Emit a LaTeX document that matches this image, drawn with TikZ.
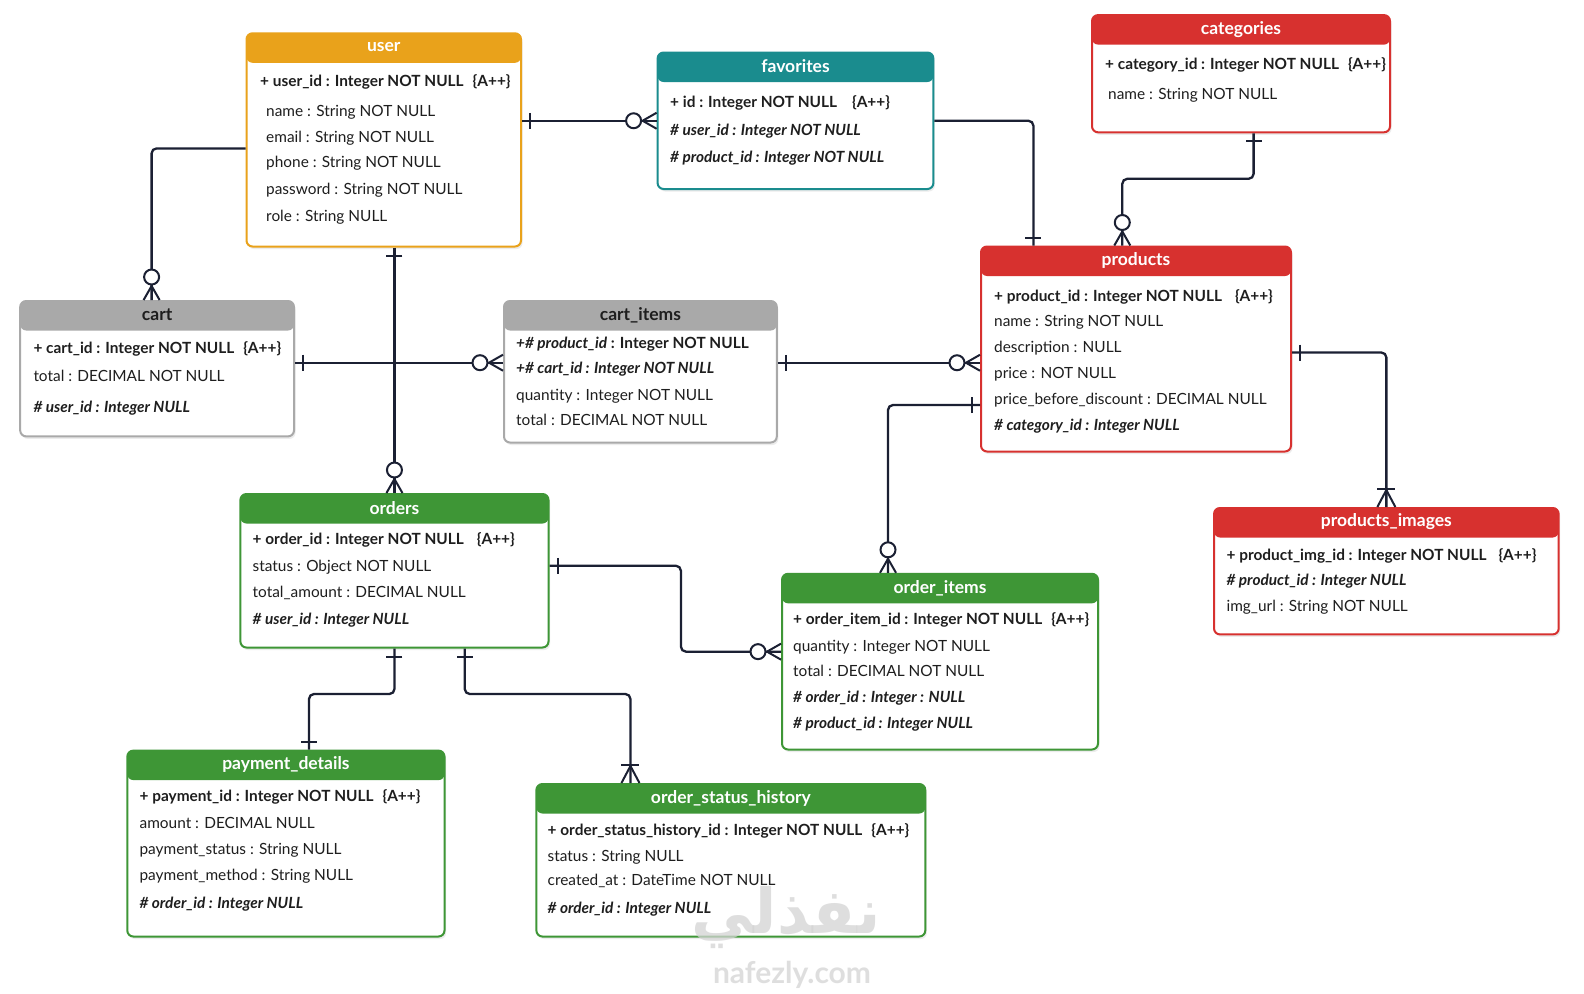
\documentclass[tikz,border=0pt]{standalone}
\usepackage{fontspec}
\setmainfont{Lato}
\newfontfamily\arabicfont[Script=Arabic]{DejaVu Sans}
\TeXXeTstate=1
\usetikzlibrary{shadows,calc}
\definecolor{cOrange}{HTML}{E9A21B}
\definecolor{cTeal}{HTML}{1A8C8E}
\definecolor{cRed}{HTML}{D7312F}
\definecolor{cGray}{HTML}{A9A9A9}
\definecolor{cGreen}{HTML}{3E9636}
\definecolor{cLine}{HTML}{1B2033}
\definecolor{cText}{HTML}{1E1E1E}
\definecolor{cWm}{HTML}{D4D4D4}
\newcommand\pk[1]{\textbf{#1}}
\newcommand\fk[1]{\textbf{\textit{#1}}}
\newcommand\apk{\hspace{9pt}\{A++\}}
\tikzset{
  ent/.style={draw=#1, fill=white, line width=2pt, rounded corners=6pt, inner sep=0pt, anchor=north west,
    drop shadow={opacity=0.15, shadow xshift=1.5pt, shadow yshift=-2.5pt},
    path picture={\fill[#1] ([yshift=5pt]path picture bounding box.north west) rectangle ([yshift=-29.5pt]path picture bounding box.north east);}},
  ttl/.style={text=white, font=\bfseries\fontsize{17.5}{20}\selectfont, inner sep=0pt},
  fld/.style={anchor=west, inner sep=0pt, text height=11pt, text depth=3pt, text=cText, font=\fontsize{15.4}{18}\selectfont},
  conn/.style={draw=cLine, line width=2.3pt, rounded corners=5pt},
  mk/.style={draw=cLine, line width=2pt},
  erOne/.pic={\draw[mk] (8,-8)--(8,8);},
  erZeroMany/.pic={\draw[mk] (0,8)--(14,0)--(0,-8); \draw[mk, fill=white] (23,0) circle (7.5pt);},
  erOneMany/.pic={\draw[mk] (0,9)--(17,0)--(0,-9); \draw[mk] (18,-9)--(18,9);},
  wm/.style={text=cWm, text opacity=0.75, inner sep=0pt}
}
\begin{document}
\begin{tikzpicture}[x=1pt,y=-1pt]
\useasboundingbox[fill=white] (0,0) rectangle (1584,993);

% ---------- entities ----------
\node[ent=cOrange, minimum width=274.5pt, minimum height=213.2pt] (user) at (245.5,32.3) {};
\node[ttl] (user-t) at ([yshift=-15pt]user.north) {user};
\node[fld] (user-1) at (260,82.8) {\pk{+ user\_id : Integer NOT NULL\apk}};
\node[fld] (user-2) at (266,112.1) {name : String NOT NULL};
\node[fld] (user-3) at (266,138.4) {email : String NOT NULL};
\node[fld] (user-4) at (266,163.7) {phone : String NOT NULL};
\node[fld] (user-5) at (266,190.9) {password : String NOT NULL};
\node[fld] (user-6) at (266,217.2) {role : String NULL};

\node[ent=cTeal, minimum width=275.8pt, minimum height=136.5pt] (fav) at (656.6,51.5) {};
\node[ttl] (fav-t) at ([yshift=-15pt]fav.north) {favorites};
\node[fld] (fav-1) at (670,103) {\pk{+ id : Integer NOT NULL\hspace{6pt}\apk}};
\node[fld] (fav-2) at (670,131.3) {\fk{\# user\_id : Integer NOT NULL}};
\node[fld] (fav-3) at (670,158.6) {\fk{\# product\_id : Integer NOT NULL}};

\node[ent=cRed, minimum width=298pt, minimum height=117.2pt] (cat) at (1091,14.1) {};
\node[ttl] (cat-t) at ([yshift=-15pt]cat.north) {categories};
\node[fld] (cat-1) at (1105,65.7) {\pk{+ category\_id : Integer NOT NULL\apk}};
\node[fld] (cat-2) at (1108,95) {name : String NOT NULL};

\node[ent=cGray, minimum width=273.8pt, minimum height=135.4pt] (cart) at (19.2,300) {};
\node[ttl, text=cText] (cart-t) at ([yshift=-15pt]cart.north) {cart};
\node[fld] (cart-1) at (33.3,349.5) {\pk{+ cart\_id : Integer NOT NULL\apk}};
\node[fld] (cart-2) at (33.3,377.8) {total : DECIMAL NOT NULL};
\node[fld] (cart-3) at (33.3,408.1) {\fk{\# user\_id : Integer NULL}};

\node[ent=cGray, minimum width=272.8pt, minimum height=141.5pt] (citems) at (503,300) {};
\node[ttl, text=cText] (citems-t) at ([yshift=-15pt]citems.north) {cart\_items};
\node[fld] (citems-1) at (516,344.5) {\fk{+\# product\_id}\pk{ : Integer NOT NULL}};
\node[fld] (citems-2) at (516,369.7) {\fk{+\# cart\_id : Integer NOT NULL}};
\node[fld] (citems-3) at (516,396) {quantity : Integer NOT NULL};
\node[fld] (citems-4) at (516,421.3) {total : DECIMAL NOT NULL};

\node[ent=cRed, minimum width=310pt, minimum height=205pt] (products) at (980,245.5) {};
\node[ttl] (products-t) at ([yshift=-15pt]products.north) {products};
\node[fld] (products-1) at (994,297) {\pk{+ product\_id : Integer NOT NULL\hspace{4pt}\apk}};
\node[fld] (products-2) at (994,322.3) {name : String NOT NULL};
\node[fld] (products-3) at (994,348.5) {description : NULL};
\node[fld] (products-4) at (994,374.8) {price : NOT NULL};
\node[fld] (products-5) at (994,400) {price\_before\_discount : DECIMAL NULL};
\node[fld] (products-6) at (994,426.3) {\fk{\# category\_id : Integer NULL}};

\node[ent=cRed, minimum width=344.7pt, minimum height=126.4pt] (pimg) at (1213,507) {};
\node[ttl] (pimg-t) at ([yshift=-15pt]pimg.north) {products\_images};
\node[fld] (pimg-1) at (1226.4,556.6) {\pk{+ product\_img\_id : Integer NOT NULL\hspace{3pt}\apk}};
\node[fld] (pimg-2) at (1226.4,581.9) {\fk{\# product\_id : Integer NULL}};
\node[fld] (pimg-3) at (1226.4,607.1) {img\_url : String NOT NULL};

\node[ent=cGreen, minimum width=308.1pt, minimum height=153.5pt] (orders) at (239.4,493) {};
\node[ttl] (orders-t) at ([yshift=-15pt]orders.north) {orders};
\node[fld] (orders-1) at (252.5,540.5) {\pk{+ order\_id : Integer NOT NULL\hspace{4pt}\apk}};
\node[fld] (orders-2) at (252.5,567.7) {status : Object NOT NULL};
\node[fld] (orders-3) at (252.5,593) {total\_amount : DECIMAL NULL};
\node[fld] (orders-4) at (252.5,620.3) {\fk{\# user\_id : Integer NULL}};

\node[ent=cGreen, minimum width=316pt, minimum height=175.7pt] (oitems) at (781,572.8) {};
\node[ttl] (oitems-t) at ([yshift=-15pt]oitems.north) {order\_items};
\node[fld] (oitems-1) at (793,620.3) {\pk{+ order\_item\_id : Integer NOT NULL\apk}};
\node[fld] (oitems-2) at (793,647.5) {quantity : Integer NOT NULL};
\node[fld] (oitems-3) at (793,672.8) {total : DECIMAL NOT NULL};
\node[fld] (oitems-4) at (793,698) {\fk{\# order\_id : Integer : NULL}};
\node[fld] (oitems-5) at (793,724.3) {\fk{\# product\_id : Integer NULL}};

\node[ent=cGreen, minimum width=317.2pt, minimum height=185.9pt] (pay) at (126.3,749.6) {};
\node[ttl] (pay-t) at ([yshift=-15pt]pay.north) {payment\_details};
\node[fld] (pay-1) at (139.4,797) {\pk{+ payment\_id : Integer NOT NULL\apk}};
\node[fld] (pay-2) at (139.4,824.3) {amount : DECIMAL NULL};
\node[fld] (pay-3) at (139.4,850.6) {payment\_status : String NULL};
\node[fld] (pay-4) at (139.4,876.9) {payment\_method : String NULL};
\node[fld] (pay-5) at (139.4,904.1) {\fk{\# order\_id : Integer NULL}};

\node[ent=cGreen, minimum width=388.9pt, minimum height=152.5pt] (osh) at (535.4,783) {};
\node[ttl] (osh-t) at ([yshift=-15pt]osh.north) {order\_status\_history};
\node[fld] (osh-1) at (547.5,831.4) {\pk{+ order\_status\_history\_id : Integer NOT NULL\apk}};
\node[fld] (osh-2) at (547.5,857.7) {status : String NULL};
\node[fld] (osh-3) at (547.5,881.9) {created\_at : DateTime NOT NULL};
\node[fld] (osh-4) at (547.5,909.2) {\fk{\# order\_id : Integer NULL}};

% ---------- connectors ----------
\draw[conn] (user.east |- fav.west) -- (fav.west);
\draw[conn] ([yshift=-8.5pt]user.west) -| ([xshift=-5.5pt]cart.north);
\draw[conn] (user.south -| orders.north) -- (orders.north);
\draw[conn] ([yshift=6pt]cart.east) -- ([yshift=6pt]cart.east -| citems.west);
\draw[conn] ([yshift=9pt]citems.east) -- ([yshift=9pt]citems.east -| products.west);
\draw[conn] (fav.east) -| ([xshift=-102.6pt]products.north);
\draw[conn] ([xshift=12.6pt]cat.south) -- ++(0,45.5) -| ([xshift=-13.7pt]products.north);
\draw[conn] ([yshift=-3.5pt]products.east) -| (pimg.north);
\draw[conn] ([yshift=-56pt]products.west) -| ([xshift=-52pt]oitems.north);
\draw[conn] ([yshift=5pt]orders.east) -- ++(131.4,0) |- ([yshift=10pt]oitems.west);
\draw[conn] (orders.south) -- ++(0,45.5) -| ([xshift=23.1pt]pay.north);
\draw[conn] ([xshift=70.3pt]orders.south) -- ++(0,45.5) -| ([xshift=-100.4pt]osh.north);

% ---------- end marks ----------
\pic at (user.east |- fav.west) {erOne};
\pic[rotate=180] at (fav.west) {erZeroMany};
\pic[rotate=90] at ([xshift=-5.5pt]cart.north) {erZeroMany};
\pic[rotate=270] at (user.south -| orders.north) {erOne};
\pic[rotate=90] at (orders.north) {erZeroMany};
\pic at ([yshift=6pt]cart.east) {erOne};
\pic[rotate=180] at ([yshift=6pt]cart.east -| citems.west) {erZeroMany};
\pic at ([yshift=9pt]citems.east) {erOne};
\pic[rotate=180] at ([yshift=9pt]citems.east -| products.west) {erZeroMany};
\pic[rotate=90] at ([xshift=-102.6pt]products.north) {erOne};
\pic[rotate=270] at ([xshift=12.6pt]cat.south) {erOne};
\pic[rotate=90] at ([xshift=-13.7pt]products.north) {erZeroMany};
\pic at ([yshift=-3.5pt]products.east) {erOne};
\pic[rotate=90] at (pimg.north) {erOneMany};
\pic[rotate=180] at ([yshift=-56pt]products.west) {erOne};
\pic[rotate=90] at ([xshift=-52pt]oitems.north) {erZeroMany};
\pic at ([yshift=5pt]orders.east) {erOne};
\pic[rotate=180] at ([yshift=10pt]oitems.west) {erZeroMany};
\pic[rotate=270] at (orders.south) {erOne};
\pic[rotate=90] at ([xshift=23.1pt]pay.north) {erOne};
\pic[rotate=270] at ([xshift=70.3pt]orders.south) {erOne};
\pic[rotate=90] at ([xshift=-100.4pt]osh.north) {erOneMany};

% ---------- watermark ----------
\node[wm, font=\arabicfont\bfseries\fontsize{62}{68}\selectfont] (wm-ar) at (786,918) {\beginR نفذلي\endR};
\node[wm, font=\bfseries\fontsize{30}{34}\selectfont] (wm-en) at (792,975) {nafezly.com};
\end{tikzpicture}
\end{document}
